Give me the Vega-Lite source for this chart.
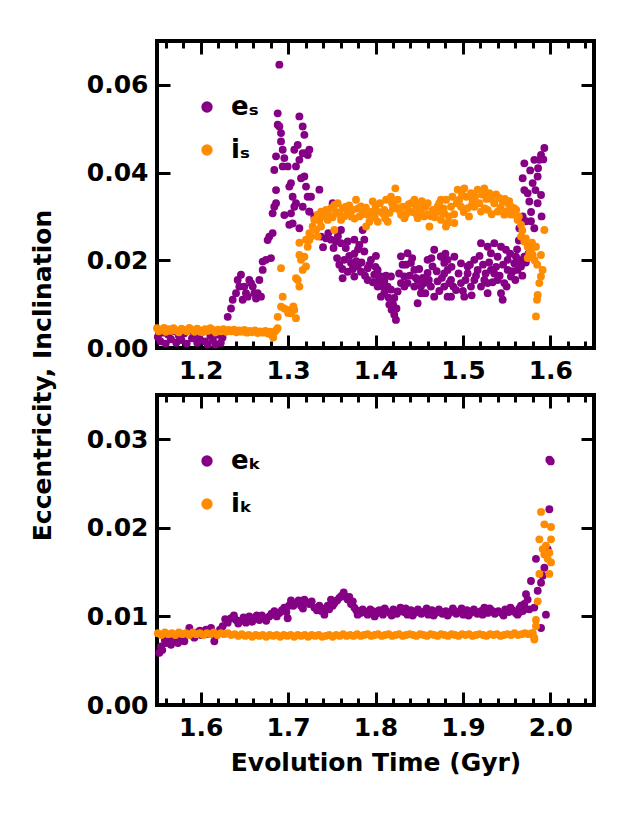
{
  "$schema": "https://vega.github.io/schema/vega-lite/v6.json",
  "background": "white",
  "padding": {"left": 28, "top": 37, "right": 28, "bottom": 20},
  "config": {
    "font": "DejaVu Sans",
    "view": {"stroke": "black", "strokeWidth": 4},
    "axis": {
      "grid": false, "domain": false,
      "labelFont": "DejaVu Sans", "labelFontWeight": "bold", "labelFontSize": 25, "labelColor": "black",
      "titleFont": "DejaVu Sans", "titleFontWeight": "bold", "titleFontSize": 25, "titleColor": "black",
      "tickColor": "black", "tickWidth": 3, "labelFlush": false, "labelOverlap": false
    },
    "legend": {
      "labelFont": "DejaVu Sans", "labelFontWeight": "bold", "labelFontSize": 26, "labelColor": "black",
      "symbolType": "circle", "symbolSize": 130, "symbolStrokeWidth": 0, "padding": 0
    }
  },
  "datasets": {
    "eS": [
      {"t":1.151,"v":0.0025},{"t":1.154,"v":0.0015},{"t":1.157,"v":0.0035},{"t":1.160,"v":0.0010},{"t":1.163,"v":0.0030},
      {"t":1.166,"v":0.0020},{"t":1.169,"v":0.0038},{"t":1.172,"v":0.0012},{"t":1.175,"v":0.0028},{"t":1.178,"v":0.0018},
      {"t":1.181,"v":0.0033},{"t":1.184,"v":0.0010},{"t":1.187,"v":0.0040},{"t":1.190,"v":0.0022},{"t":1.193,"v":0.0030},
      {"t":1.196,"v":0.0012},{"t":1.199,"v":0.0020},{"t":1.202,"v":0.0037},{"t":1.205,"v":0.0015},{"t":1.208,"v":0.0008},
      {"t":1.211,"v":0.0028},{"t":1.214,"v":0.0018},{"t":1.217,"v":0.0008},{"t":1.220,"v":0.0030},{"t":1.223,"v":0.0012},
      {"t":1.225,"v":0.0024},
      {"t":1.2309,"v":0.0071},{"t":1.2347,"v":0.0090},{"t":1.2366,"v":0.0110},{"t":1.2404,"v":0.0125},{"t":1.2423,"v":0.0155},
      {"t":1.2461,"v":0.0167},{"t":1.2442,"v":0.0140},{"t":1.2499,"v":0.0140},{"t":1.2518,"v":0.0125},{"t":1.2556,"v":0.0155},
      {"t":1.2595,"v":0.0140},{"t":1.2614,"v":0.0125},{"t":1.2652,"v":0.0125},{"t":1.2633,"v":0.0113},{"t":1.2690,"v":0.0117},
      {"t":1.2480,"v":0.0110},{"t":1.2537,"v":0.0117},{"t":1.2576,"v":0.0148},{"t":1.2671,"v":0.0155},{"t":1.2709,"v":0.0178},
      {"t":1.2709,"v":0.0197},{"t":1.2747,"v":0.0201},{"t":1.2804,"v":0.0205},{"t":1.2766,"v":0.0246},{"t":1.2785,"v":0.0254},
      {"t":1.2823,"v":0.0262},{"t":1.2842,"v":0.0322},{"t":1.2862,"v":0.0330},{"t":1.2823,"v":0.0307},{"t":1.2862,"v":0.0360},
      {"t":1.2842,"v":0.0406},{"t":1.2862,"v":0.0437},{"t":1.2881,"v":0.0509},{"t":1.2900,"v":0.0505},{"t":1.2919,"v":0.0490},
      {"t":1.2919,"v":0.0471},{"t":1.2938,"v":0.0452},{"t":1.2957,"v":0.0433},{"t":1.2938,"v":0.0414},{"t":1.2900,"v":0.0646},
      {"t":1.2881,"v":0.0535},{"t":1.2995,"v":0.0414},{"t":1.3014,"v":0.0368},{"t":1.3033,"v":0.0376},{"t":1.3052,"v":0.0345},
      {"t":1.3071,"v":0.0322},{"t":1.3090,"v":0.0330},{"t":1.2957,"v":0.0303},{"t":1.3033,"v":0.0307},{"t":1.3052,"v":0.0284},
      {"t":1.3014,"v":0.0281},{"t":1.3090,"v":0.0414},{"t":1.3071,"v":0.0452},{"t":1.3110,"v":0.0463},{"t":1.3129,"v":0.0528},
      {"t":1.3167,"v":0.0505},{"t":1.3186,"v":0.0486},{"t":1.3167,"v":0.0444},{"t":1.3205,"v":0.0444},{"t":1.3224,"v":0.0440},
      {"t":1.3243,"v":0.0452},{"t":1.3129,"v":0.0429},{"t":1.3148,"v":0.0387},{"t":1.3186,"v":0.0391},{"t":1.3205,"v":0.0368},
      {"t":1.3224,"v":0.0345},{"t":1.3262,"v":0.0345},{"t":1.3243,"v":0.0311},{"t":1.3129,"v":0.0273},{"t":1.3167,"v":0.0322},
      {"t":1.3358,"v":0.0361},{"t":1.3243,"v":0.0311},{"t":1.3300,"v":0.0300},{"t":1.3377,"v":0.0304},{"t":1.3434,"v":0.0308},
      {"t":1.3510,"v":0.0330},{"t":1.3377,"v":0.0254},{"t":1.3434,"v":0.0250},{"t":1.3491,"v":0.0247},{"t":1.3548,"v":0.0243},
      {"t":1.3605,"v":0.0239},{"t":1.3605,"v":0.0269},{"t":1.3682,"v":0.0243},{"t":1.3758,"v":0.0247},{"t":1.3815,"v":0.0235},
      {"t":1.3872,"v":0.0247},{"t":1.3853,"v":0.0269},{"t":1.3586,"v":0.0190},{"t":1.3643,"v":0.0201},{"t":1.3720,"v":0.0194},
      {"t":1.3796,"v":0.0186},{"t":1.3682,"v":0.0174},{"t":1.3624,"v":0.0159},{"t":1.3758,"v":0.0163},{"t":1.3834,"v":0.0174},
      {"t":1.3910,"v":0.0182},{"t":1.3948,"v":0.0201},{"t":1.4005,"v":0.0210},{"t":1.3872,"v":0.0220},{"t":1.3758,"v":0.0215},
      {"t":1.3986,"v":0.0167},{"t":1.4062,"v":0.0163},{"t":1.4101,"v":0.0152},{"t":1.4024,"v":0.0140},{"t":1.4139,"v":0.0140},
      {"t":1.4062,"v":0.0117},{"t":1.4177,"v":0.0133},{"t":1.4215,"v":0.0114},{"t":1.4158,"v":0.0099},{"t":1.4184,"v":0.0087},
      {"t":1.4215,"v":0.0076},{"t":1.4234,"v":0.0064},{"t":1.4253,"v":0.0129},{"t":1.4291,"v":0.0148},{"t":1.4329,"v":0.0163},
      {"t":1.4291,"v":0.0209},{"t":1.4367,"v":0.0216},{"t":1.4348,"v":0.0190},{"t":1.4405,"v":0.0194},{"t":1.4444,"v":0.0178},
      {"t":1.4482,"v":0.0155},{"t":1.4444,"v":0.0140},{"t":1.4520,"v":0.0140},{"t":1.4482,"v":0.0102},{"t":1.4520,"v":0.0125},
      {"t":1.4558,"v":0.0148},{"t":1.4596,"v":0.0171},{"t":1.4653,"v":0.0186},{"t":1.4672,"v":0.0224},{"t":1.4748,"v":0.0209},
      {"t":1.4787,"v":0.0194},{"t":1.4825,"v":0.0178},{"t":1.4710,"v":0.0152},{"t":1.4787,"v":0.0140},{"t":1.4844,"v":0.0148},
      {"t":1.4596,"v":0.0201},{"t":1.4634,"v":0.0140},{"t":1.4672,"v":0.0117},{"t":1.4825,"v":0.0117},{"t":1.3910,"v":0.0155},
      {"t":1.4024,"v":0.0178},{"t":1.4177,"v":0.0163},{"t":1.4367,"v":0.0148},
      {"t":1.4749,"v":0.0208},{"t":1.4825,"v":0.0201},{"t":1.4902,"v":0.0208},{"t":1.4787,"v":0.0170},{"t":1.4864,"v":0.0155},
      {"t":1.4921,"v":0.0132},{"t":1.4978,"v":0.0148},{"t":1.4978,"v":0.0193},{"t":1.5054,"v":0.0186},{"t":1.5054,"v":0.0170},
      {"t":1.5131,"v":0.0201},{"t":1.5131,"v":0.0155},{"t":1.5169,"v":0.0178},{"t":1.5207,"v":0.0239},{"t":1.5207,"v":0.0140},
      {"t":1.5245,"v":0.0155},{"t":1.5283,"v":0.0231},{"t":1.5283,"v":0.0125},{"t":1.5321,"v":0.0216},{"t":1.5321,"v":0.0178},
      {"t":1.5359,"v":0.0239},{"t":1.5359,"v":0.0170},{"t":1.5397,"v":0.0208},{"t":1.5436,"v":0.0231},{"t":1.5436,"v":0.0125},
      {"t":1.5455,"v":0.0110},{"t":1.5474,"v":0.0148},{"t":1.5493,"v":0.0224},{"t":1.5512,"v":0.0201},{"t":1.5512,"v":0.0178},
      {"t":1.5550,"v":0.0163},{"t":1.5588,"v":0.0193},{"t":1.5607,"v":0.0208},{"t":1.5626,"v":0.0178},{"t":1.5665,"v":0.0186},
      {"t":1.5703,"v":0.0208},{"t":1.5283,"v":0.0148},{"t":1.5016,"v":0.0117},{"t":1.4864,"v":0.0117},{"t":1.5092,"v":0.0140},
      {"t":1.5397,"v":0.0155},
      {"t":1.5932,"v":0.0456},{"t":1.5894,"v":0.0440},{"t":1.5874,"v":0.0429},{"t":1.5817,"v":0.0429},{"t":1.5703,"v":0.0421},
      {"t":1.5855,"v":0.0391},{"t":1.5798,"v":0.0376},{"t":1.5684,"v":0.0387},{"t":1.5894,"v":0.0349},{"t":1.5855,"v":0.0330},
      {"t":1.5760,"v":0.0334},{"t":1.5703,"v":0.0360},{"t":1.5741,"v":0.0353},{"t":1.5779,"v":0.0289},{"t":1.5722,"v":0.0289},
      {"t":1.5665,"v":0.0292},{"t":1.5646,"v":0.0273},{"t":1.5684,"v":0.0300},{"t":1.5817,"v":0.0273},
      {"t":1.3400,"v":0.0230},{"t":1.3460,"v":0.0262},{"t":1.3520,"v":0.0228},{"t":1.3570,"v":0.0255},{"t":1.3560,"v":0.0205},
      {"t":1.3620,"v":0.0180},{"t":1.3660,"v":0.0228},{"t":1.3700,"v":0.0210},{"t":1.3740,"v":0.0180},{"t":1.3780,"v":0.0198},
      {"t":1.3800,"v":0.0225},{"t":1.3840,"v":0.0195},{"t":1.3880,"v":0.0165},{"t":1.3930,"v":0.0190},{"t":1.3970,"v":0.0150},
      {"t":1.4000,"v":0.0185},{"t":1.4040,"v":0.0155},{"t":1.4080,"v":0.0140},{"t":1.4100,"v":0.0125},{"t":1.4120,"v":0.0165},
      {"t":1.4150,"v":0.0115},{"t":1.4200,"v":0.0100},{"t":1.4240,"v":0.0090},{"t":1.4270,"v":0.0170},{"t":1.4310,"v":0.0190},
      {"t":1.4330,"v":0.0140},{"t":1.4390,"v":0.0165},{"t":1.4420,"v":0.0205},{"t":1.4460,"v":0.0160},{"t":1.4500,"v":0.0180},
      {"t":1.4540,"v":0.0160},{"t":1.4570,"v":0.0125},{"t":1.4610,"v":0.0155},{"t":1.4640,"v":0.0205},{"t":1.4700,"v":0.0175},
      {"t":1.4730,"v":0.0130},{"t":1.4760,"v":0.0160},{"t":1.4800,"v":0.0215},{"t":1.4870,"v":0.0185},{"t":1.4890,"v":0.0140},
      {"t":1.4950,"v":0.0170},{"t":1.5000,"v":0.0130},{"t":1.5030,"v":0.0155},{"t":1.5080,"v":0.0190},{"t":1.5100,"v":0.0120},
      {"t":1.5150,"v":0.0165},{"t":1.5190,"v":0.0210},{"t":1.5230,"v":0.0190},{"t":1.5260,"v":0.0170},{"t":1.5300,"v":0.0195},
      {"t":1.5340,"v":0.0150},{"t":1.5380,"v":0.0185},{"t":1.5420,"v":0.0165},{"t":1.5460,"v":0.0190},{"t":1.5500,"v":0.0140},
      {"t":1.5540,"v":0.0215},{"t":1.5570,"v":0.0175},{"t":1.5600,"v":0.0155},{"t":1.5620,"v":0.0225},{"t":1.5650,"v":0.0200},
      {"t":1.5680,"v":0.0165},{"t":1.5720,"v":0.0195},{"t":1.5750,"v":0.0215},{"t":1.5640,"v":0.0245},{"t":1.5780,"v":0.0310},
      {"t":1.5830,"v":0.0360},{"t":1.5860,"v":0.0410},{"t":1.5920,"v":0.0430},{"t":1.5770,"v":0.0405},{"t":1.5900,"v":0.0300}
    ],
    "iS": [
      {"t":1.150,"v":0.0045},{"t":1.152,"v":0.0038},{"t":1.155,"v":0.0042},{"t":1.158,"v":0.0046},{"t":1.160,"v":0.0037},
      {"t":1.163,"v":0.0043},{"t":1.166,"v":0.0039},{"t":1.169,"v":0.0045},{"t":1.172,"v":0.0040},{"t":1.175,"v":0.0036},
      {"t":1.178,"v":0.0044},{"t":1.181,"v":0.0041},{"t":1.184,"v":0.0038},{"t":1.187,"v":0.0046},{"t":1.190,"v":0.0042},
      {"t":1.193,"v":0.0037},{"t":1.196,"v":0.0044},{"t":1.199,"v":0.0040},{"t":1.202,"v":0.0036},{"t":1.205,"v":0.0043},
      {"t":1.208,"v":0.0039},{"t":1.211,"v":0.0045},{"t":1.214,"v":0.0041},{"t":1.217,"v":0.0036},{"t":1.220,"v":0.0042},
      {"t":1.223,"v":0.0038},{"t":1.226,"v":0.0043},{"t":1.229,"v":0.0037},{"t":1.232,"v":0.0041},{"t":1.235,"v":0.0038},
      {"t":1.238,"v":0.0042},{"t":1.241,"v":0.0036},{"t":1.244,"v":0.0040},{"t":1.247,"v":0.0037},{"t":1.250,"v":0.0041},
      {"t":1.253,"v":0.0035},{"t":1.256,"v":0.0039},{"t":1.259,"v":0.0036},{"t":1.262,"v":0.0040},{"t":1.265,"v":0.0034},
      {"t":1.268,"v":0.0038},{"t":1.271,"v":0.0035},{"t":1.274,"v":0.0039},{"t":1.277,"v":0.0033},{"t":1.279,"v":0.0037},
      {"t":1.281,"v":0.0030},{"t":1.283,"v":0.0024},{"t":1.284,"v":0.0036},{"t":1.286,"v":0.0040},{"t":1.288,"v":0.0045},
      {"t":1.2881,"v":0.0071},{"t":1.2919,"v":0.0182},{"t":1.2938,"v":0.0117},{"t":1.2919,"v":0.0094},{"t":1.2957,"v":0.0090},
      {"t":1.2995,"v":0.0087},{"t":1.3000,"v":0.0080},{"t":1.3033,"v":0.0079},{"t":1.3071,"v":0.0087},{"t":1.3090,"v":0.0068},
      {"t":1.3060,"v":0.0095},{"t":1.3129,"v":0.0240},{"t":1.3129,"v":0.0212},{"t":1.3090,"v":0.0159},{"t":1.3129,"v":0.0140},
      {"t":1.3110,"v":0.0155},{"t":1.3167,"v":0.0178},{"t":1.3205,"v":0.0186},{"t":1.3186,"v":0.0208},{"t":1.3224,"v":0.0231},
      {"t":1.3243,"v":0.0246},{"t":1.3262,"v":0.0254},{"t":1.3281,"v":0.0277},{"t":1.3300,"v":0.0292},{"t":1.3148,"v":0.0201},
      {"t":1.3205,"v":0.0247},{"t":1.3243,"v":0.0262},{"t":1.3320,"v":0.0269},{"t":1.3339,"v":0.0254},
      {"t":1.3339,"v":0.0304},{"t":1.3377,"v":0.0311},{"t":1.3434,"v":0.0315},{"t":1.3491,"v":0.0319},{"t":1.3529,"v":0.0326},
      {"t":1.3567,"v":0.0330},{"t":1.3625,"v":0.0319},{"t":1.3682,"v":0.0311},{"t":1.3720,"v":0.0300},{"t":1.3777,"v":0.0338},
      {"t":1.3834,"v":0.0323},{"t":1.3892,"v":0.0277},{"t":1.3930,"v":0.0288},{"t":1.3968,"v":0.0334},{"t":1.4025,"v":0.0311},
      {"t":1.4082,"v":0.0307},{"t":1.4121,"v":0.0338},{"t":1.4178,"v":0.0345},{"t":1.4227,"v":0.0364},{"t":1.4254,"v":0.0338},
      {"t":1.4292,"v":0.0304},{"t":1.4330,"v":0.0296},{"t":1.4407,"v":0.0330},{"t":1.4445,"v":0.0338},{"t":1.4502,"v":0.0319},
      {"t":1.4559,"v":0.0300},{"t":1.4617,"v":0.0277},{"t":1.4655,"v":0.0315},{"t":1.4712,"v":0.0323},{"t":1.4769,"v":0.0307},
      {"t":1.4826,"v":0.0285},{"t":1.4807,"v":0.0338},{"t":1.3377,"v":0.0277},{"t":1.3453,"v":0.0292},{"t":1.3529,"v":0.0269},
      {"t":1.3606,"v":0.0292},{"t":1.3815,"v":0.0300},{"t":1.4025,"v":0.0288},{"t":1.4483,"v":0.0296},{"t":1.3911,"v":0.0304},
      {"t":1.4140,"v":0.0288},{"t":1.4368,"v":0.0315},{"t":1.4597,"v":0.0330},{"t":1.4750,"v":0.0292},{"t":1.3700,"v":0.0325},
      {"t":1.3870,"v":0.0312},{"t":1.4200,"v":0.0318},{"t":1.4530,"v":0.0335},{"t":1.4680,"v":0.0298},{"t":1.4160,"v":0.0308},
      {"t":1.4749,"v":0.0338},{"t":1.4787,"v":0.0307},{"t":1.4806,"v":0.0277},{"t":1.4902,"v":0.0285},{"t":1.4864,"v":0.0322},
      {"t":1.4940,"v":0.0361},{"t":1.4959,"v":0.0338},{"t":1.5016,"v":0.0364},{"t":1.5092,"v":0.0353},{"t":1.5054,"v":0.0319},
      {"t":1.5131,"v":0.0322},{"t":1.5169,"v":0.0361},{"t":1.5207,"v":0.0311},{"t":1.5245,"v":0.0364},{"t":1.5302,"v":0.0353},
      {"t":1.5283,"v":0.0315},{"t":1.5359,"v":0.0330},{"t":1.5417,"v":0.0342},{"t":1.5455,"v":0.0334},{"t":1.5512,"v":0.0330},
      {"t":1.5550,"v":0.0322},{"t":1.5588,"v":0.0319},{"t":1.5398,"v":0.0311},{"t":1.5474,"v":0.0304},{"t":1.5550,"v":0.0304},
      {"t":1.5626,"v":0.0292},{"t":1.5665,"v":0.0281},{"t":1.5665,"v":0.0254},{"t":1.5703,"v":0.0243},{"t":1.5741,"v":0.0231},
      {"t":1.5779,"v":0.0224},{"t":1.5798,"v":0.0212},{"t":1.5741,"v":0.0205},{"t":1.5836,"v":0.0231},{"t":1.5932,"v":0.0269},
      {"t":1.5893,"v":0.0212},{"t":1.5912,"v":0.0178},{"t":1.5893,"v":0.0163},{"t":1.5874,"v":0.0148},{"t":1.5855,"v":0.0121},
      {"t":1.5848,"v":0.0110},{"t":1.5836,"v":0.0072},{"t":1.4978,"v":0.0322},{"t":1.5111,"v":0.0338},
      {"t":1.3360,"v":0.0290},{"t":1.3410,"v":0.0300},{"t":1.3460,"v":0.0305},{"t":1.3510,"v":0.0298},{"t":1.3550,"v":0.0310},
      {"t":1.3590,"v":0.0305},{"t":1.3640,"v":0.0300},{"t":1.3660,"v":0.0322},{"t":1.3740,"v":0.0315},{"t":1.3760,"v":0.0295},
      {"t":1.3800,"v":0.0318},{"t":1.3850,"v":0.0305},{"t":1.3890,"v":0.0320},{"t":1.3950,"v":0.0310},{"t":1.3990,"v":0.0298},
      {"t":1.4000,"v":0.0322},{"t":1.4050,"v":0.0330},{"t":1.4100,"v":0.0315},{"t":1.4110,"v":0.0296},{"t":1.4190,"v":0.0330},
      {"t":1.4240,"v":0.0320},{"t":1.4270,"v":0.0315},{"t":1.4310,"v":0.0322},{"t":1.4350,"v":0.0305},{"t":1.4380,"v":0.0328},
      {"t":1.4420,"v":0.0310},{"t":1.4460,"v":0.0325},{"t":1.4470,"v":0.0305},{"t":1.4520,"v":0.0312},{"t":1.4570,"v":0.0322},
      {"t":1.4600,"v":0.0305},{"t":1.4640,"v":0.0300},{"t":1.4700,"v":0.0310},{"t":1.4730,"v":0.0330},{"t":1.4780,"v":0.0318},
      {"t":1.4840,"v":0.0300},{"t":1.4880,"v":0.0345},{"t":1.4900,"v":0.0305},{"t":1.4930,"v":0.0330},{"t":1.4990,"v":0.0350},
      {"t":1.5010,"v":0.0310},{"t":1.5040,"v":0.0345},{"t":1.5070,"v":0.0300},{"t":1.5100,"v":0.0325},{"t":1.5140,"v":0.0345},
      {"t":1.5190,"v":0.0330},{"t":1.5220,"v":0.0350},{"t":1.5250,"v":0.0318},{"t":1.5270,"v":0.0340},{"t":1.5330,"v":0.0340},
      {"t":1.5330,"v":0.0305},{"t":1.5380,"v":0.0350},{"t":1.5430,"v":0.0320},{"t":1.5480,"v":0.0340},{"t":1.5500,"v":0.0312},
      {"t":1.5530,"v":0.0335},{"t":1.5580,"v":0.0305},{"t":1.5610,"v":0.0315},{"t":1.5640,"v":0.0300},{"t":1.5680,"v":0.0268},
      {"t":1.5720,"v":0.0250},{"t":1.5760,"v":0.0215},{"t":1.5790,"v":0.0240},{"t":1.5820,"v":0.0200},{"t":1.5850,"v":0.0190}
    ],
    "eK": [
      {"t":1.5527,"v":0.0059},{"t":1.5546,"v":0.0066},{"t":1.5603,"v":0.0070},{"t":1.5660,"v":0.0068},{"t":1.5717,"v":0.0074},
      {"t":1.5775,"v":0.0079},{"t":1.5813,"v":0.0072},{"t":1.5870,"v":0.0087},{"t":1.5927,"v":0.0076},{"t":1.6003,"v":0.0079},
      {"t":1.6061,"v":0.0085},{"t":1.6118,"v":0.0087},{"t":1.6156,"v":0.0072},{"t":1.6194,"v":0.0081},{"t":1.6251,"v":0.0089},
      {"t":1.6309,"v":0.0093},{"t":1.6347,"v":0.0098},{"t":1.6404,"v":0.0096},{"t":1.6461,"v":0.0095},{"t":1.6518,"v":0.0093},
      {"t":1.6556,"v":0.0100},{"t":1.6614,"v":0.0098},{"t":1.6671,"v":0.0096},{"t":1.6728,"v":0.0098},{"t":1.6785,"v":0.0100},
      {"t":1.6843,"v":0.0106},{"t":1.6900,"v":0.0104},{"t":1.6957,"v":0.0110},{"t":1.6995,"v":0.0098},{"t":1.7033,"v":0.0118},
      {"t":1.7090,"v":0.0115},{"t":1.7148,"v":0.0112},{"t":1.7186,"v":0.0119},{"t":1.7243,"v":0.0114},{"t":1.7300,"v":0.0110},
      {"t":1.7357,"v":0.0112},{"t":1.7415,"v":0.0102},{"t":1.7453,"v":0.0112},{"t":1.7491,"v":0.0119},{"t":1.7529,"v":0.0115},
      {"t":1.7586,"v":0.0121},{"t":1.7636,"v":0.0127},{"t":1.7682,"v":0.0119},{"t":1.7720,"v":0.0114},{"t":1.7758,"v":0.0110},
      {"t":1.7796,"v":0.0102},{"t":1.7853,"v":0.0108},{"t":1.7910,"v":0.0102},{"t":1.7968,"v":0.0106},
      {"t":1.5630,"v":0.0074},{"t":1.5740,"v":0.0070},{"t":1.5840,"v":0.0080},{"t":1.5960,"v":0.0082},{"t":1.6090,"v":0.0080},
      {"t":1.6280,"v":0.0097},{"t":1.6380,"v":0.0101},{"t":1.6490,"v":0.0099},{"t":1.6590,"v":0.0094},{"t":1.6700,"v":0.0101},
      {"t":1.6810,"v":0.0103},{"t":1.6930,"v":0.0107},{"t":1.7060,"v":0.0112},{"t":1.7210,"v":0.0116},{"t":1.7330,"v":0.0107},
      {"t":1.7470,"v":0.0108},{"t":1.7610,"v":0.0123},{"t":1.7700,"v":0.0122},{"t":1.7830,"v":0.0104},{"t":1.7940,"v":0.0108},
      {"t":1.8005,"v":0.0103},{"t":1.8045,"v":0.0107},{"t":1.8085,"v":0.0102},{"t":1.8125,"v":0.0106},{"t":1.8165,"v":0.0104},
      {"t":1.8205,"v":0.0108},{"t":1.8245,"v":0.0103},{"t":1.8285,"v":0.0110},{"t":1.8325,"v":0.0105},{"t":1.8365,"v":0.0102},
      {"t":1.8405,"v":0.0107},{"t":1.8445,"v":0.0104},{"t":1.8485,"v":0.0108},{"t":1.8525,"v":0.0103},{"t":1.8565,"v":0.0106},
      {"t":1.8605,"v":0.0102},{"t":1.8645,"v":0.0107},{"t":1.8685,"v":0.0104},{"t":1.8725,"v":0.0108},{"t":1.8765,"v":0.0103},
      {"t":1.8805,"v":0.0106},{"t":1.8845,"v":0.0104},{"t":1.8885,"v":0.0109},{"t":1.8925,"v":0.0103},{"t":1.8965,"v":0.0106},
      {"t":1.9005,"v":0.0102},{"t":1.9045,"v":0.0107},{"t":1.9085,"v":0.0104},{"t":1.9125,"v":0.0108},{"t":1.9165,"v":0.0103},
      {"t":1.9205,"v":0.0106},{"t":1.9245,"v":0.0110},{"t":1.9285,"v":0.0104},{"t":1.9325,"v":0.0107},{"t":1.9365,"v":0.0103},
      {"t":1.9405,"v":0.0106},{"t":1.9445,"v":0.0104},{"t":1.9485,"v":0.0108},{"t":1.9525,"v":0.0105},{"t":1.9565,"v":0.0107},
      {"t":1.9605,"v":0.0104},{"t":1.9645,"v":0.0109},{"t":1.9685,"v":0.0106},
      {"t":1.9703,"v":0.0114},{"t":1.9722,"v":0.0125},{"t":1.9741,"v":0.0119},{"t":1.9665,"v":0.0112},{"t":1.9779,"v":0.0140},
      {"t":1.9817,"v":0.0110},{"t":1.9836,"v":0.0165},{"t":1.9856,"v":0.0129},{"t":1.9894,"v":0.0138},{"t":1.9894,"v":0.0087},
      {"t":1.9913,"v":0.0146},{"t":1.9932,"v":0.0155},{"t":1.9950,"v":0.0170},{"t":1.9950,"v":0.0102},{"t":1.9970,"v":0.0176},
      {"t":1.9989,"v":0.0221},{"t":1.9989,"v":0.0277},{"t":2.0005,"v":0.0275},{"t":1.9760,"v":0.0108},
      {"t":1.6430,"v":0.0092},{"t":1.6530,"v":0.0098},{"t":1.6640,"v":0.0101},{"t":1.6750,"v":0.0095},{"t":1.6870,"v":0.0100},
      {"t":1.6980,"v":0.0105},{"t":1.7010,"v":0.0112},{"t":1.7120,"v":0.0118},{"t":1.7170,"v":0.0109},{"t":1.7270,"v":0.0117},
      {"t":1.7380,"v":0.0106},{"t":1.7420,"v":0.0109},{"t":1.7510,"v":0.0112},{"t":1.7560,"v":0.0118},{"t":1.7660,"v":0.0122},
      {"t":1.7740,"v":0.0117},{"t":1.7780,"v":0.0107},{"t":1.7880,"v":0.0105},{"t":1.7990,"v":0.0100},{"t":1.8025,"v":0.0106},
      {"t":1.8105,"v":0.0109},{"t":1.8185,"v":0.0101},{"t":1.8265,"v":0.0106},{"t":1.8345,"v":0.0109},{"t":1.8425,"v":0.0101},
      {"t":1.8505,"v":0.0105},{"t":1.8585,"v":0.0109},{"t":1.8665,"v":0.0101},{"t":1.8745,"v":0.0105},{"t":1.8825,"v":0.0101},
      {"t":1.8905,"v":0.0106},{"t":1.8985,"v":0.0109},{"t":1.9065,"v":0.0101},{"t":1.9145,"v":0.0105},{"t":1.9225,"v":0.0102},
      {"t":1.9305,"v":0.0109},{"t":1.9385,"v":0.0105},{"t":1.9465,"v":0.0101},{"t":1.9545,"v":0.0110},{"t":1.9625,"v":0.0102},
      {"t":1.9705,"v":0.0108},{"t":1.9650,"v":0.0105},
      {"t":1.5560,"v":0.0062},{"t":1.5590,"v":0.0073},{"t":1.5690,"v":0.0072},{"t":1.5760,"v":0.0076},{"t":1.5900,"v":0.0079},
      {"t":1.5990,"v":0.0084},{"t":1.6030,"v":0.0082},{"t":1.6140,"v":0.0081},{"t":1.6220,"v":0.0085},{"t":1.6170,"v":0.0078}
    ],
    "iK": [
      {"t":1.551,"v":0.0081},{"t":1.555,"v":0.0079},{"t":1.559,"v":0.0082},{"t":1.563,"v":0.0080},{"t":1.567,"v":0.0081},
      {"t":1.571,"v":0.0079},{"t":1.575,"v":0.0082},{"t":1.579,"v":0.0080},{"t":1.583,"v":0.0081},{"t":1.587,"v":0.0079},
      {"t":1.591,"v":0.0082},{"t":1.595,"v":0.0080},{"t":1.599,"v":0.0081},{"t":1.603,"v":0.0079},{"t":1.607,"v":0.0081},
      {"t":1.611,"v":0.0080},{"t":1.615,"v":0.0082},{"t":1.619,"v":0.0079},{"t":1.623,"v":0.0081},{"t":1.627,"v":0.0080},
      {"t":1.631,"v":0.0081},{"t":1.635,"v":0.0079},{"t":1.639,"v":0.0080},{"t":1.643,"v":0.0078},{"t":1.647,"v":0.0080},
      {"t":1.651,"v":0.0078},{"t":1.655,"v":0.0079},{"t":1.659,"v":0.0077},{"t":1.663,"v":0.0079},{"t":1.667,"v":0.0078},
      {"t":1.671,"v":0.0079},{"t":1.675,"v":0.0077},{"t":1.679,"v":0.0079},{"t":1.683,"v":0.0078},{"t":1.687,"v":0.0079},
      {"t":1.691,"v":0.0077},{"t":1.695,"v":0.0079},{"t":1.699,"v":0.0078},{"t":1.703,"v":0.0079},{"t":1.707,"v":0.0077},
      {"t":1.711,"v":0.0079},{"t":1.715,"v":0.0078},{"t":1.719,"v":0.0079},{"t":1.723,"v":0.0077},{"t":1.727,"v":0.0079},
      {"t":1.731,"v":0.0078},{"t":1.735,"v":0.0079},{"t":1.739,"v":0.0077},{"t":1.743,"v":0.0078},{"t":1.747,"v":0.0079},
      {"t":1.751,"v":0.0077},{"t":1.755,"v":0.0079},{"t":1.759,"v":0.0078},{"t":1.763,"v":0.0080},{"t":1.767,"v":0.0078},
      {"t":1.771,"v":0.0079},{"t":1.775,"v":0.0078},{"t":1.779,"v":0.0080},{"t":1.783,"v":0.0078},{"t":1.787,"v":0.0079},
      {"t":1.791,"v":0.0080},{"t":1.795,"v":0.0078},{"t":1.799,"v":0.0079},{"t":1.803,"v":0.0080},{"t":1.807,"v":0.0078},
      {"t":1.811,"v":0.0079},{"t":1.815,"v":0.0080},{"t":1.819,"v":0.0078},{"t":1.823,"v":0.0079},{"t":1.827,"v":0.0080},
      {"t":1.831,"v":0.0078},{"t":1.835,"v":0.0079},{"t":1.839,"v":0.0080},{"t":1.843,"v":0.0079},{"t":1.847,"v":0.0078},
      {"t":1.851,"v":0.0080},{"t":1.855,"v":0.0079},{"t":1.859,"v":0.0078},{"t":1.863,"v":0.0080},{"t":1.867,"v":0.0079},
      {"t":1.871,"v":0.0078},{"t":1.875,"v":0.0080},{"t":1.879,"v":0.0079},{"t":1.883,"v":0.0078},{"t":1.887,"v":0.0080},
      {"t":1.891,"v":0.0079},{"t":1.895,"v":0.0078},{"t":1.899,"v":0.0080},{"t":1.903,"v":0.0079},{"t":1.907,"v":0.0080},
      {"t":1.911,"v":0.0078},{"t":1.915,"v":0.0079},{"t":1.919,"v":0.0080},{"t":1.923,"v":0.0079},{"t":1.927,"v":0.0078},
      {"t":1.931,"v":0.0080},{"t":1.935,"v":0.0079},{"t":1.939,"v":0.0080},{"t":1.943,"v":0.0078},{"t":1.947,"v":0.0079},
      {"t":1.951,"v":0.0080},{"t":1.955,"v":0.0079},{"t":1.959,"v":0.0081},{"t":1.963,"v":0.0079},{"t":1.967,"v":0.0080},
      {"t":1.971,"v":0.0081},{"t":1.975,"v":0.0080},{"t":1.979,"v":0.0081},
      {"t":1.9817,"v":0.0076},{"t":1.9800,"v":0.0081},{"t":1.9817,"v":0.0074},{"t":1.9836,"v":0.0089},{"t":1.9836,"v":0.0096},
      {"t":1.9856,"v":0.0117},{"t":1.9875,"v":0.0148},{"t":1.9875,"v":0.0187},{"t":1.9894,"v":0.0218},{"t":1.9932,"v":0.0204},
      {"t":1.9913,"v":0.0176},{"t":1.9932,"v":0.0170},{"t":1.9989,"v":0.0172},{"t":1.9989,"v":0.0148},{"t":2.0008,"v":0.0201},
      {"t":2.0008,"v":0.0187},{"t":2.0008,"v":0.0161},{"t":1.9970,"v":0.0165},{"t":1.9950,"v":0.0180}
    ]
  },
  "bounds": "flush",
  "spacing": 47,
  "resolve": {"scale": {"color": "independent"}},
  "vconcat": [
    {
      "width": 437,
      "height": 307,
      "resolve": {"axis": {"x": "independent", "y": "independent"}},
      "layer": [
        {
          "data": {"name": "eS"},
          "mark": {"type": "circle", "size": 62, "opacity": 1},
          "encoding": {
            "x": {
              "field": "t", "type": "quantitative",
              "scale": {"domain": [1.15, 1.65], "nice": false, "zero": false},
              "axis": {
                "orient": "bottom", "title": null,
                "values": [1.16, 1.18, 1.2, 1.22, 1.24, 1.26, 1.28, 1.3, 1.32, 1.34, 1.36, 1.38, 1.4, 1.42, 1.44, 1.46, 1.48, 1.5, 1.52, 1.54, 1.56, 1.58, 1.6, 1.62, 1.64],
                "labelExpr": "abs(datum.value * 10 - round(datum.value * 10)) < 0.001 ? format(datum.value, '.1f') : ''",
                "tickSize": {"condition": {"test": "abs(datum.value * 10 - round(datum.value * 10)) < 0.001", "value": -13}, "value": -7},
                "labelPadding": 23
              }
            },
            "y": {
              "field": "v", "type": "quantitative",
              "scale": {"domain": [0, 0.07], "nice": false},
              "axis": {
                "orient": "left", "title": "Eccentricity, Inclination",
                "values": [0, 0.02, 0.04, 0.06], "format": ".2f",
                "tickSize": -13, "labelPadding": 22,
                "titleY": 334, "titlePadding": 31
              }
            },
            "color": {
              "datum": "eₛ", "type": "nominal",
              "scale": {"domain": ["eₛ", "iₛ"], "range": ["#850085", "#ff8c00"]},
              "legend": {"title": null, "orient": "none", "legendX": 37, "legendY": 53, "rowPadding": 17, "labelOffset": 11}
            }
          }
        },
        {
          "data": {"name": "iS"},
          "mark": {"type": "circle", "size": 62, "opacity": 1},
          "encoding": {
            "x": {
              "field": "t", "type": "quantitative",
              "axis": {
                "orient": "top", "title": null, "labels": false,
                "values": [1.16, 1.18, 1.2, 1.22, 1.24, 1.26, 1.28, 1.3, 1.32, 1.34, 1.36, 1.38, 1.4, 1.42, 1.44, 1.46, 1.48, 1.5, 1.52, 1.54, 1.56, 1.58, 1.6, 1.62, 1.64],
                "tickSize": {"condition": {"test": "abs(datum.value * 10 - round(datum.value * 10)) < 0.001", "value": -13}, "value": -7}
              }
            },
            "y": {
              "field": "v", "type": "quantitative",
              "axis": {"orient": "right", "title": null, "labels": false, "values": [0, 0.02, 0.04, 0.06], "tickSize": -13}
            },
            "color": {"datum": "iₛ", "type": "nominal"}
          }
        }
      ]
    },
    {
      "width": 437,
      "height": 310,
      "resolve": {"axis": {"x": "independent", "y": "independent"}},
      "layer": [
        {
          "data": {"name": "eK"},
          "mark": {"type": "circle", "size": 62, "opacity": 1},
          "encoding": {
            "x": {
              "field": "t", "type": "quantitative",
              "scale": {"domain": [1.55, 2.05], "nice": false, "zero": false},
              "axis": {
                "orient": "bottom", "title": "Evolution Time (Gyr)", "titlePadding": 4,
                "values": [1.56, 1.58, 1.6, 1.62, 1.64, 1.66, 1.68, 1.7, 1.72, 1.74, 1.76, 1.78, 1.8, 1.82, 1.84, 1.86, 1.88, 1.9, 1.92, 1.94, 1.96, 1.98, 2.0, 2.02, 2.04],
                "labelExpr": "abs(datum.value * 10 - round(datum.value * 10)) < 0.001 ? format(datum.value, '.1f') : ''",
                "tickSize": {"condition": {"test": "abs(datum.value * 10 - round(datum.value * 10)) < 0.001", "value": -13}, "value": -7},
                "labelPadding": 23
              }
            },
            "y": {
              "field": "v", "type": "quantitative",
              "scale": {"domain": [0, 0.035], "nice": false},
              "axis": {
                "orient": "left", "title": null,
                "values": [0, 0.01, 0.02, 0.03], "format": ".2f",
                "tickSize": -13, "labelPadding": 22
              }
            },
            "color": {
              "datum": "eₖ", "type": "nominal",
              "scale": {"domain": ["eₖ", "iₖ"], "range": ["#850085", "#ff8c00"]},
              "legend": {"title": null, "orient": "none", "legendX": 37, "legendY": 53, "rowPadding": 17, "labelOffset": 11}
            }
          }
        },
        {
          "data": {"name": "iK"},
          "mark": {"type": "circle", "size": 62, "opacity": 1},
          "encoding": {
            "x": {
              "field": "t", "type": "quantitative",
              "axis": {
                "orient": "top", "title": null, "labels": false,
                "values": [1.56, 1.58, 1.6, 1.62, 1.64, 1.66, 1.68, 1.7, 1.72, 1.74, 1.76, 1.78, 1.8, 1.82, 1.84, 1.86, 1.88, 1.9, 1.92, 1.94, 1.96, 1.98, 2.0, 2.02, 2.04],
                "tickSize": {"condition": {"test": "abs(datum.value * 10 - round(datum.value * 10)) < 0.001", "value": -13}, "value": -7}
              }
            },
            "y": {
              "field": "v", "type": "quantitative",
              "axis": {"orient": "right", "title": null, "labels": false, "values": [0, 0.01, 0.02, 0.03], "tickSize": -13}
            },
            "color": {"datum": "iₖ", "type": "nominal"}
          }
        }
      ]
    }
  ]
}
